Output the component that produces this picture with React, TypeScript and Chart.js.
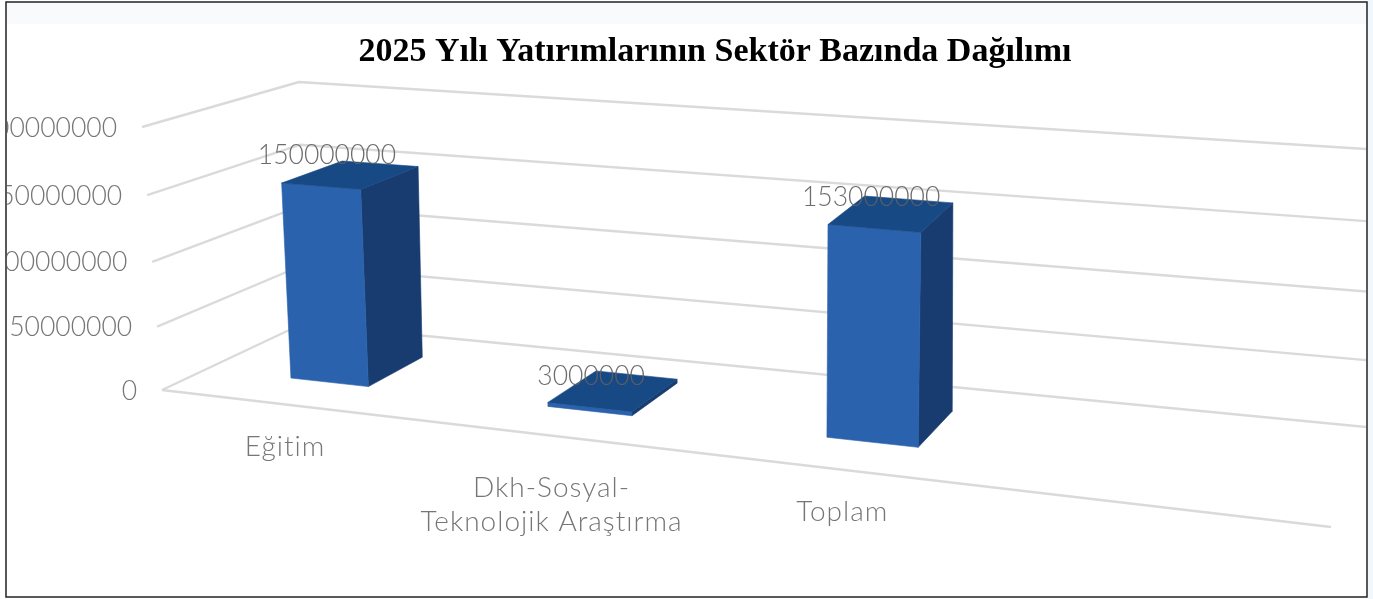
import React, { useEffect, useRef } from "react";
import { Chart, registerables } from "chart.js";

Chart.register(...registerables);

const TITLE = "2025 Yılı Yatırımlarının Sektör Bazında Dağılımı";
const categories: string[][] = [["Eğitim"], ["Dkh-Sosyal-", "Teknolojik Araştırma"], ["Toplam"], [""]];
const investments: (number | null)[] = [150000000, 3000000, 153000000, null];
const axisMax = 200000000;
const axisStep = 50000000;

const FRONT = "#2a62ad";
const SIDE = "#183c70";
const TOP = "#174a85";
const GRID = "#dadada";
const TEXT = "#767676";
const FONT = "Lato";

// The chart's 3D box as it appears on the page: floor corners, and the lean/height of
// the box at each of them (front-left, front-right, back-right, back-left).
type P = [number, number];
const FLOOR: P[] = [[162, 390], [1331, 527], [1366, 427], [302, 324]];
const WALL: P[] = [[-20, 263], [17, 298], [0, 278], [-3, 242]];
const DEPTH_FRONT = 0.3;
const DEPTH_BACK = 0.72;
const WARP = 0.088;
const GRID_WARP = -0.05;

function squareToQuad(q: P[]) {
  const [[x0, y0], [x1, y1], [x2, y2], [x3, y3]] = q;
  const dx1 = x1 - x2, dx2 = x3 - x2, dy1 = y1 - y2, dy2 = y3 - y2;
  const sx = x0 - x1 + x2 - x3, sy = y0 - y1 + y2 - y3;
  const den = dx1 * dy2 - dx2 * dy1;
  const g = (sx * dy2 - dx2 * sy) / den;
  const h = (dx1 * sy - sx * dy1) / den;
  const a = x1 - x0 + g * x1, b = x3 - x0 + h * x3, c = x0;
  const d = y1 - y0 + g * y1, e = y3 - y0 + h * y3, f = y0;
  return (u: number, w: number): P => {
    const z = g * u + h * w + 1;
    return [(a * u + b * w + c) / z, (d * u + e * w + f) / z];
  };
}
const floorMap = squareToQuad(FLOOR);
function project(u0: number, v: number, w: number): P {
  const u = u0 + WARP * u0 * (1 - u0);
  const a = floorMap(u, w);
  const [fl, fr, br, bl] = WALL;
  const dx = (fl[0] * (1 - u) + fr[0] * u) * (1 - w) + (bl[0] * (1 - u) + br[0] * u) * w;
  const h = (fl[1] * (1 - u) + fr[1] * u) * (1 - w) + (bl[1] * (1 - u) + br[1] * u) * w;
  return [a[0] + dx * v, a[1] - h * v];
}

function poly(ctx: CanvasRenderingContext2D, pts: P[], fill: string) {
  ctx.beginPath();
  pts.forEach((p, i) => (i ? ctx.lineTo(p[0], p[1]) : ctx.moveTo(p[0], p[1])));
  ctx.closePath();
  ctx.fillStyle = fill;
  ctx.fill();
  ctx.strokeStyle = fill;
  ctx.lineWidth = 0.6;
  ctx.stroke();
}

const scene3d = {
  id: "scene3d",
  beforeDraw(chart: any) {
    const { ctx, width, height } = chart;
    ctx.save();
    ctx.fillStyle = "#ffffff";
    ctx.fillRect(0, 0, width, height);
    ctx.fillStyle = "#f1f8fd";
    ctx.fillRect(1368, 0, width - 1368, height);
    ctx.fillStyle = "#f9fafc";
    ctx.fillRect(6, 3, 1361, 21);
    ctx.restore();
  },
  beforeDatasetsDraw(chart: any) {
    const { ctx, scales } = chart;
    const y = scales.y;
    const x = scales.x;
    const area = chart.chartArea;
    const toV = (px: number) => (y.bottom - px) / (y.bottom - y.top);
    const toU = (px: number) => (px - area.left) / area.width;
    const gridV = (value: number) => {
      const v = toV(y.getPixelForValue(value));
      return v + GRID_WARP * v * (1 - v);
    };

    ctx.save();
    // grid walls
    ctx.beginPath();
    ctx.rect(7, 3, 1360, 594);
    ctx.clip();
    ctx.strokeStyle = GRID;
    ctx.lineWidth = 2.4;
    ctx.lineJoin = "round";
    y.ticks.forEach((t: any) => {
      const v = gridV(t.value);
      const a = project(0, v, 0), b = project(0, v, 1), c = project(1, v, 1);
      ctx.beginPath();
      ctx.moveTo(a[0], a[1]);
      ctx.lineTo(b[0], b[1]);
      ctx.lineTo(c[0], c[1]);
      ctx.stroke();
    });
    const f0 = project(0, 0, 0), f1 = project(1, 0, 0);
    ctx.beginPath();
    ctx.moveTo(f0[0], f0[1]);
    ctx.lineTo(f1[0], f1[1]);
    ctx.stroke();

    // value axis labels
    ctx.font = `300 26.5px ${FONT}`;
    ctx.fillStyle = TEXT;
    ctx.textAlign = "right";
    ctx.textBaseline = "middle";
    y.ticks.forEach((t: any) => {
      const a = project(0, gridV(t.value), 0);
      ctx.fillText(String(t.value), a[0] - 25, a[1] + 1);
    });

    // category labels
    ctx.font = `300 28px ${FONT}`;
    (ctx as any).letterSpacing = "1px";
    ctx.textAlign = "center";
    categories.forEach((lines, i) => {
      const u = toU(x.getPixelForValue(i));
      const a = project(u, 0, 0);
      const y0 = a[1] + 42 + (lines.length - 1) * 10;
      lines.forEach((s, k) => {
        if (s) ctx.fillText(s, a[0] - 2, y0 + k * 34);
      });
    });
    (ctx as any).letterSpacing = "0px";

    // bars
    const meta = chart.getDatasetMeta(0);
    const labels: { text: string; p: P }[] = [];
    meta.data.forEach((bar: any, i: number) => {
      const value = investments[i];
      if (value == null) return;
      const props = bar.getProps(["x", "y", "base", "width"], true);
      const u0 = toU(props.x - props.width / 2);
      const u1 = toU(props.x + props.width / 2);
      const v = toV(props.y);
      const wf = DEPTH_FRONT, wb = DEPTH_BACK;
      const fl0 = project(u0, 0, wf), fr0 = project(u1, 0, wf), br0 = project(u1, 0, wb);
      const fl1 = project(u0, v, wf), fr1 = project(u1, v, wf), br1 = project(u1, v, wb), bl1 = project(u0, v, wb);
      poly(ctx, [fr0, br0, br1, fr1], SIDE);
      poly(ctx, [fl0, fr0, fr1, fl1], bar.options.backgroundColor);
      poly(ctx, [fl1, fr1, br1, bl1], TOP);
      const uc = toU(props.x);
      labels.push({ text: String(value), p: [(fl1[0] + fr1[0]) / 2 + 8 - 18 * uc, (fl1[1] + fr1[1]) / 2 - 31] });
    });

    ctx.font = `300 26.5px ${FONT}`;
    ctx.fillStyle = "rgba(95,95,95,0.92)";
    ctx.textAlign = "center";
    ctx.textBaseline = "middle";
    labels.forEach((l) => ctx.fillText(l.text, l.p[0], l.p[1]));
    ctx.restore();

    // frame
    ctx.save();
    ctx.strokeStyle = "#222222";
    ctx.lineWidth = 1.5;
    ctx.strokeRect(6, 2, 1361, 595);
    ctx.restore();
    return false;
  },
};

export default function App() {
  const ref = useRef<HTMLCanvasElement | null>(null);
  useEffect(() => {
    const chart = new Chart(ref.current as HTMLCanvasElement, {
      type: "bar",
      data: {
        labels: categories.map((l) => l.join(" ")),
        datasets: [
          {
            label: "Yatırım",
            data: investments,
            backgroundColor: FRONT,
            categoryPercentage: 1,
            barPercentage: 0.31,
          },
        ],
      },
      options: {
        animation: false,
        responsive: false,
        layout: { padding: { left: 100, right: 43, top: 10, bottom: 60 } },
        scales: {
          x: { display: false },
          y: { display: false, min: 0, max: axisMax, ticks: { stepSize: axisStep } },
        },
        plugins: {
          legend: { display: false },
          tooltip: { enabled: false },
          title: {
            display: true,
            text: TITLE,
            color: "#000000",
            font: { family: "'Liberation Serif'", size: 34, weight: "bold" },
            padding: { top: 22, bottom: 40 },
          },
        },
      },
      plugins: [scene3d],
    } as any);
    return () => chart.destroy();
  }, []);
  return (
    <div style={{ position: "absolute", left: 0, top: 0, width: 1373, height: 599 }}>
      <canvas ref={ref} width={1373} height={599} style={{ display: "block" }} />
    </div>
  );
}
